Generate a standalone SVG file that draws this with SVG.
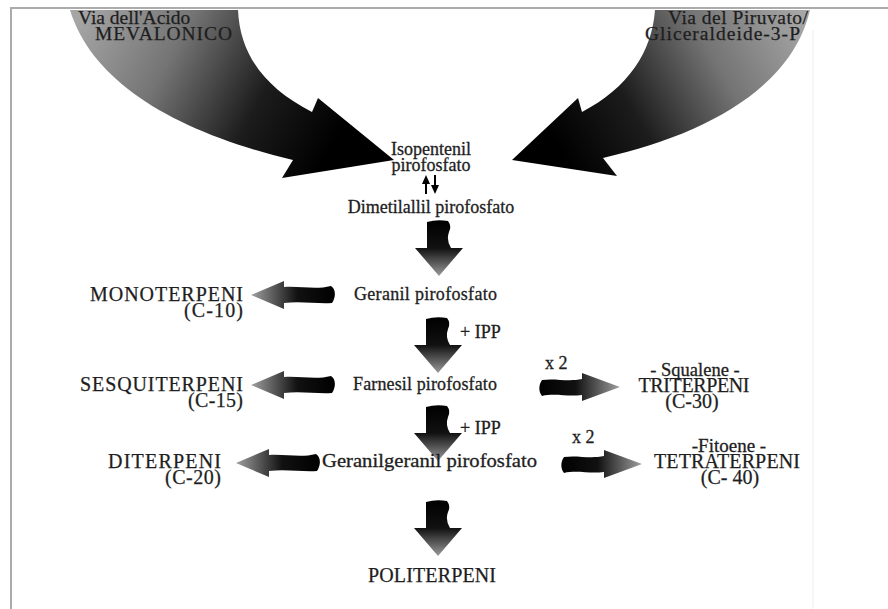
<svg xmlns="http://www.w3.org/2000/svg" width="888" height="609" viewBox="0 0 888 609">
<defs>
<style>
text{font-family:"Liberation Serif","Times New Roman",serif;font-size:18px;fill:#1e1e1e;stroke:#1e1e1e;stroke-width:0.3}
.s{font-size:18.5px}
.c{font-size:20px;stroke-width:0.25}
.t{font-size:19.5px;stroke-width:0.25}
.m{text-anchor:middle}.e{text-anchor:end}
</style>
<linearGradient id="gDown" x1="0" y1="0" x2="0" y2="1"><stop offset="0" stop-color="#000"/><stop offset="0.5" stop-color="#111"/><stop offset="1" stop-color="#9a9a9a"/></linearGradient>
<linearGradient id="gLeft" x1="1" y1="0" x2="0" y2="0"><stop offset="0" stop-color="#000"/><stop offset="0.45" stop-color="#111"/><stop offset="1" stop-color="#a0a0a0"/></linearGradient>
<linearGradient id="gRight" x1="0" y1="0" x2="1" y2="0"><stop offset="0" stop-color="#000"/><stop offset="0.45" stop-color="#111"/><stop offset="1" stop-color="#a0a0a0"/></linearGradient>
<linearGradient id="gBigL" gradientUnits="userSpaceOnUse" x1="80" y1="15" x2="330" y2="150"><stop offset="0" stop-color="#a6a6a6"/><stop offset="0.35" stop-color="#747474"/><stop offset="0.7" stop-color="#1c1c1c"/><stop offset="1" stop-color="#000"/></linearGradient>
<linearGradient id="gBigR" gradientUnits="userSpaceOnUse" x1="800" y1="15" x2="560" y2="150"><stop offset="0" stop-color="#a6a6a6"/><stop offset="0.35" stop-color="#747474"/><stop offset="0.7" stop-color="#1c1c1c"/><stop offset="1" stop-color="#000"/></linearGradient>
<path id="downA" d="M -12,2 Q -2,-1 9,1 Q 13,6 10,12 Q 7,20 12,28 L 24,28 L 0,56 L -24,28 L -12,28 Z"/>
<path id="leftA" d="M 0,0 L 33,-14 L 33,-8 C 50,-9 65,-5 80,-9 C 85,-6 85,2 81,8 C 66,9 50,6 33,8 L 33,14 Z"/>
<path id="rightA" d="M 2,-7 C 15,-9 28,-5 42,-8 L 42,-14 L 80,0 L 42,14 L 42,8 C 28,10 15,6 2,9 C -2,4 -1,-3 2,-7 Z"/>
</defs>

<g id="frame">
<path d="M 11,609 V 8 H 888" fill="none" stroke="#ababab" stroke-width="2"/>
<line x1="813" y1="30" x2="813" y2="609" stroke="#f6f6f6" stroke-width="2"/>
</g>

<g id="connectors">
<path id="big-left" d="M 70,10 L 238,10 C 240,55 265,88 312,112 L 318,98 L 394,160 L 282,178 L 293,160 C 175,132 92,82 70,10 Z" fill="url(#gBigL)"/>
<path id="big-right" d="M 810,10 L 655,10 C 652,52 628,88 582,112 L 578,98 L 512,160 L 617,176 L 603,158 C 705,135 792,88 810,10 Z" fill="url(#gBigR)"/>
<g id="ipp-dmapp" fill="#000" stroke="#000">
<line x1="426" y1="194" x2="426" y2="182" stroke-width="2"/>
<path d="M 426,175 L 430,184 L 422,184 Z" stroke="none"/>
<line x1="435" y1="175" x2="435" y2="187" stroke-width="2"/>
<path d="M 435,194 L 439,185 L 431,185 Z" stroke="none"/>
</g>
<use href="#downA" transform="translate(439,220)" fill="url(#gDown)"/>
<use href="#downA" transform="translate(438,317)" fill="url(#gDown)"/>
<use href="#downA" transform="translate(438,405)" fill="url(#gDown)"/>
<use href="#downA" transform="translate(438,500)" fill="url(#gDown)"/>
<use href="#leftA" transform="translate(251,295)" fill="url(#gLeft)"/>
<use href="#leftA" transform="translate(251,385)" fill="url(#gLeft)"/>
<use href="#leftA" transform="translate(236,463)" fill="url(#gLeft)"/>
<use href="#rightA" transform="translate(540,387)" fill="url(#gRight)"/>
<use href="#rightA" transform="translate(562,464)" fill="url(#gRight)"/>
</g>

<g id="mevalonico"><text class="t" x="78" y="24">Via dell'Acido</text><text class="t" x="95" y="40" textLength="137">MEVALONICO</text></g>
<g id="piruvato"><text class="t e" x="808" y="24" textLength="140">Via del Piruvato/</text><text class="t e" x="800" y="40" textLength="155">Gliceraldeide-3-P</text></g>
<g id="ipp"><text class="m" x="431" y="155">Isopentenil</text><text class="m" x="431" y="171">pirofosfato</text></g>
<g id="dmapp"><text class="m" x="431" y="213">Dimetilallil pirofosfato</text></g>
<g id="gpp"><text x="354" y="300" textLength="143">Geranil pirofosfato</text></g>
<g id="mono"><text class="c e" x="243" y="301" textLength="153">MONOTERPENI</text><text class="c e" x="243" y="317" textLength="59">(C-10)</text></g>
<g id="ipp1"><text x="460" y="338">+ IPP</text></g>
<g id="fpp"><text x="353" y="390" textLength="144">Farnesil pirofosfato</text></g>
<g id="sesqui"><text class="c e" x="243" y="391" textLength="163">SESQUITERPENI</text><text class="c e" x="243" y="407" textLength="55">(C-15)</text></g>
<g id="x2a"><text x="545" y="369">x 2</text></g>
<g id="tri"><text class="s m" x="695" y="376">- Squalene -</text><text class="c m" x="694" y="392" textLength="111">TRITERPENI</text><text class="c m" x="692" y="408">(C-30)</text></g>
<g id="ipp2"><text x="460" y="434">+ IPP</text></g>
<g id="ggpp"><text x="322" y="467" style="font-size:19px" textLength="215" lengthAdjust="spacingAndGlyphs">Geranilgeranil pirofosfato</text></g>
<g id="di"><text class="c e" x="221" y="468" textLength="113">DITERPENI</text><text class="c e" x="221" y="484" textLength="56">(C-20)</text></g>
<g id="x2b"><text x="572" y="443">x 2</text></g>
<g id="tetra"><text class="m" style="font-size:19px" x="729" y="452">-Fitoene -</text><text class="c m" x="727" y="468" textLength="146">TETRATERPENI</text><text class="c m" x="730" y="484">(C- 40)</text></g>
<g id="poli"><text class="c m" x="432" y="582" textLength="128">POLITERPENI</text></g>
</svg>
